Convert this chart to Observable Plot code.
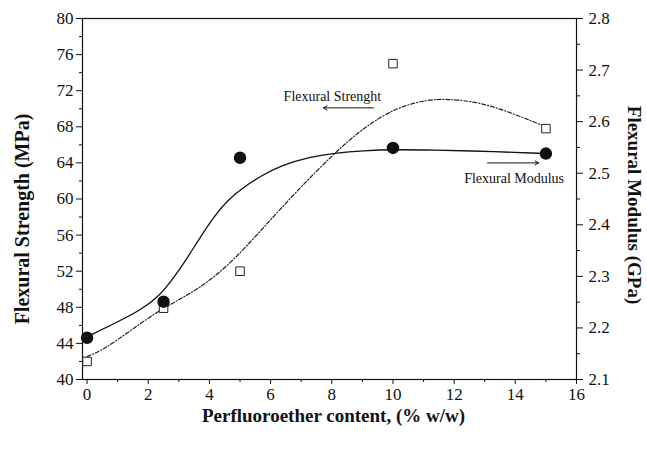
<!DOCTYPE html>
<html>
<head>
<meta charset="utf-8">
<script src="https://cdn.jsdelivr.net/npm/d3@7"></script>
<script src="https://cdn.jsdelivr.net/npm/@observablehq/plot@0.6"></script>
<style>
  html, body { margin: 0; padding: 0; background: #fff; }
  #chart svg { display: block; font-family: 'Liberation Serif', serif; }
  #chart svg text { font-family: 'Liberation Serif', serif; }
</style>
</head>
<body>
<div id="chart"></div>
<script>
// Measured data points
const content = [0, 2.5, 5, 10, 15];
const strength = [42.0, 47.9, 52.0, 75.0, 67.8];        // MPa (open squares, left axis)
const modulus = [2.181, 2.251, 2.530, 2.549, 2.538];     // GPa (filled circles, right axis)

// Fitted curves
const strengthFitX = [0, 0.54, 1.42, 2.5, 3.6, 4.69, 5.78, 6.87, 8.06, 9.05, 10.13, 11.11, 11.77, 12.86, 13.95, 15];
const strengthFitY = [42.55, 43.29, 45.43, 48.0, 49.86, 52.82, 56.88, 60.94, 65.0, 67.96, 70.17, 70.99, 71.1, 70.73, 69.44, 68.0];
const modulusFitX = [0, 0.87, 1.75, 2.4, 2.83, 3.27, 3.7, 4.14, 4.58, 5.12, 5.67, 6.32, 7.3, 8.06, 9.05, 10.03, 11.22, 13.4, 15];
const modulusFitY = [2.183, 2.208, 2.234, 2.264, 2.297, 2.335, 2.376, 2.415, 2.447, 2.473, 2.494, 2.515, 2.532, 2.539, 2.544, 2.546, 2.545, 2.542, 2.538];

// Tick labels
const xTicks = [0, 2, 4, 6, 8, 10, 12, 14, 16];
const xMinor = [1, 3, 5, 7, 9, 11, 13, 15];
const leftTicks = [40, 44, 48, 52, 56, 60, 64, 68, 72, 76, 80];
const leftMinor = [42, 46, 50, 54, 58, 62, 66, 70, 74, 78];
const rightTicks = [2.1, 2.2, 2.3, 2.4, 2.5, 2.6, 2.7, 2.8];
const rightMinor = [2.15, 2.25, 2.35, 2.45, 2.55, 2.65, 2.75];

// Annotations
const labels = [
  {text: "Flexural Strenght", x: 8.02, y: 71.4},
  {text: "Flexural Modulus", x: 13.96, y: 62.3}
];
const arrows = [
  {x1: 9.36, x2: 7.73, y: 70.1},
  {x1: 13.09, x2: 14.76, y: 64.0}
];

// Map right-axis (GPa) onto left-axis (MPa) scale
const toLeft = g => 40 + (g - 2.1) / 0.7 * 40;
const fromLeft = s => 2.1 + (s - 40) / 40 * 0.7;

const pts = content.map((c, i) => ({c, s: strength[i], m: toLeft(modulus[i])}));
const sFit = strengthFitX.map((x, i) => ({x, y: strengthFitY[i]}));
const mFit = modulusFitX.map((x, i) => ({x, y: toLeft(modulusFitY[i])}));

const font = "'Liberation Serif', 'Times New Roman', serif";

const chart = Plot.plot({
  width: 647,
  height: 450,
  marginLeft: 82,
  marginRight: 71,
  marginTop: 18,
  marginBottom: 71,
  style: {fontFamily: font, fontSize: "17px", background: "#fff", color: "#111"},
  x: {domain: [-0.15, 16]},
  y: {domain: [40, 80]},
  marks: [
    Plot.frame({stroke: "#111", strokeWidth: 1.2}),
    // x axis
    Plot.axisX({ticks: xTicks, tickSize: 5, tickPadding: 3, tickFormat: d => d, label: null, fontSize: 17, fontFamily: font}),
    Plot.axisX({ticks: xMinor, tickSize: 3, tickFormat: () => "", label: null}),
    // left axis
    Plot.axisY({ticks: leftTicks, tickSize: 6, tickPadding: 3, tickFormat: d => d, label: null, anchor: "left", fontSize: 17, fontFamily: font}),
    Plot.axisY({ticks: leftMinor, tickSize: 3, tickFormat: () => "", label: null, anchor: "left"}),
    // right axis
    Plot.axisY(rightTicks.map(toLeft), {anchor: "right", tickSize: 6, tickPadding: 6, tickFormat: d => fromLeft(d).toFixed(1), label: null, fontSize: 17, fontFamily: font}),
    Plot.axisY(rightMinor.map(toLeft), {anchor: "right", tickSize: 3, tickFormat: () => "", label: null}),
    // fitted curves
    Plot.line(mFit, {x: "x", y: "y", curve: "basis", stroke: "#111", strokeWidth: 1.3}),
    Plot.line(sFit, {x: "x", y: "y", curve: "basis", stroke: "#222", strokeWidth: 1.2, strokeDasharray: "4,2,1,2"}),
    // data points
    Plot.dot(pts, {x: "c", y: "s", symbol: "square", r: 4.8, fill: "#fff", stroke: "#222", strokeWidth: 1}),
    Plot.dot(pts, {x: "c", y: "m", r: 5.5, fill: "#111", stroke: "#111"}),
    // annotations
    Plot.text(labels, {x: "x", y: "y", text: "text", fontSize: 14, fill: "#111", fontFamily: font}),
    Plot.arrow(arrows, {x1: "x1", x2: "x2", y1: "y", y2: "y", headLength: 6, stroke: "#111", strokeWidth: 1}),
    // axis titles
    Plot.text(["Flexural Strength (MPa)"], {frameAnchor: "left", textAnchor: "middle", lineAnchor: "middle", dx: -60, dy: 20, rotate: -90, fontSize: 20, fontWeight: "bold", fill: "#111", fontFamily: font}),
    Plot.text(["Flexural Modulus (GPa)"], {frameAnchor: "right", textAnchor: "middle", lineAnchor: "middle", dx: 58, dy: 6, rotate: 90, fontSize: 19, fontWeight: "bold", fill: "#111", fontFamily: font}),
    Plot.text(["Perfluoroether content, (% w/w)"], {frameAnchor: "bottom", textAnchor: "middle", lineAnchor: "middle", dx: 4, dy: 36, fontSize: 19, fontWeight: "bold", fill: "#111", fontFamily: font})
  ]
});
document.getElementById("chart").appendChild(chart);
</script>
</body>
</html>
